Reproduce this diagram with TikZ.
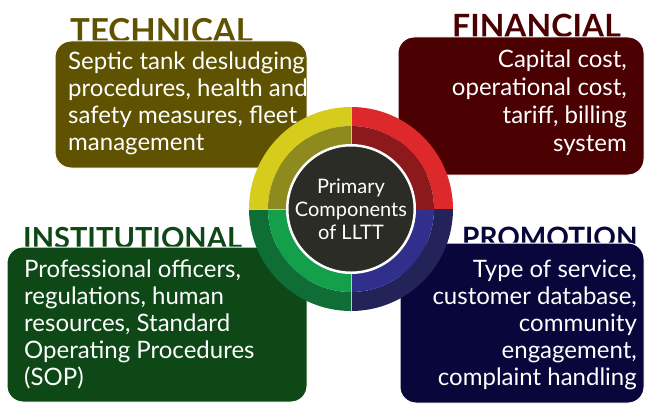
\documentclass[tikz,border=0pt]{standalone}
\usepackage{fontspec}
\setmainfont{Lato}
\definecolor{techcol}{RGB}{95,82,0}
\definecolor{fincol}{RGB}{75,0,2}
\definecolor{instcol}{RGB}{13,72,22}
\definecolor{promcol}{RGB}{8,6,58}
\definecolor{hubcol}{RGB}{43,44,38}
\definecolor{yelout}{RGB}{214,204,28}
\definecolor{yelin}{RGB}{142,138,30}
\definecolor{redout}{RGB}{221,40,44}
\definecolor{redin}{RGB}{140,26,29}
\definecolor{greout}{RGB}{15,110,54}
\definecolor{grein}{RGB}{20,160,75}
\definecolor{bluout}{RGB}{35,34,89}
\definecolor{bluin}{RGB}{48,47,140}
\tikzset{%
	panel/.style    	= {draw=white, line width=1pt, rectangle, rounded corners=16pt, inner sep=0pt},
	heading/.style  	= {inner sep=0pt, anchor=base west}, % Title above a panel
	bodyleft/.style 	= {inner sep=0pt, text=white, align=left, anchor=north west, font=\fontsize{24}{27}\selectfont},
	bodyright/.style	= {inner sep=0pt, text=white, align=right, anchor=north east, font=\fontsize{24}{27}\selectfont},
	hub/.style      	= {draw=white, line width=2.5pt, circle, fill=hubcol, minimum size=118pt, inner sep=0pt, text=white, align=center, font=\fontsize{20}{23}\selectfont}
}
\newcommand{\headfont}[1]{\fontsize{#1}{#1}\selectfont\bfseries}

\begin{document}
\begin{tikzpicture}[x=1pt, y=1pt]
	\useasboundingbox (0,0) rectangle (645,405);
	% Titles, partly hidden by the panels
	\draw
	node at (70,362) [heading, text=techcol, font=\headfont{33}] (techtitle) {TECHNICAL}
	node at (452,367) [heading, text=fincol, font=\headfont{32}] (fintitle) {FINANCIAL}
	node at (23,157) [heading, text=instcol, font=\headfont{29}] (insttitle) {INSTITUTIONAL}
	node at (462,158) [heading, text=promcol, font=\headfont{28}] (promtitle) {PROMOTION}
	;
	
	% Drawing the four panels
	\draw
	node at (181,300.5) [panel, fill=techcol, minimum width=252pt, minimum height=127pt] (techbox) {}
	node at (521,299) [panel, fill=fincol, minimum width=246pt, minimum height=138pt] (finbox) {}
	node at (157,80.5) [panel, fill=instcol, minimum width=300pt, minimum height=155pt] (instbox) {}
	node at (522,82) [panel, fill=promcol, minimum width=244pt, minimum height=160pt] (prombox) {}
	node at (68,353) [bodyleft] (techtext) {Septic tank desludging\\procedures, health and\\safety measures, fleet\\management}
	node at (627,355) [bodyright, font=\fontsize{24}{28}\selectfont] (fintext) {Capital cost,\\operational cost,\\tariff, billing\\system}
	node at (24,145) [bodyleft] (insttext) {Professional officers,\\regulations, human\\resources, Standard\\Operating Procedures\\(SOP)}
	node at (637,145) [bodyright] (promtext) {Type of service,\\customer database,\\community\\engagement,\\complaint handling}
	;
	
	% Drawing the ring
	\coordinate (c) at (351,196);
	\foreach \a/\outc/\inc in {0/redout/redin, 90/yelout/yelin, 180/greout/grein, 270/bluout/bluin}{
		\fill[\outc, shift={(c)}] (\a:102) arc[start angle=\a, delta angle=90, radius=102] -- (\a+90:83) arc[start angle=\a+90, delta angle=-90, radius=83] -- cycle;
		\fill[\inc, shift={(c)}] (\a:83) arc[start angle=\a, delta angle=90, radius=83] -- (\a+90:62) arc[start angle=\a+90, delta angle=-90, radius=62] -- cycle;
		\draw[gray!45, line width=0.6pt, shift={(c)}] (\a:62) -- (\a:102);
	}
	\node at (c) [hub] (hubnode) {Primary\\Components\\of LLTT};
\end{tikzpicture}
\end{document}
